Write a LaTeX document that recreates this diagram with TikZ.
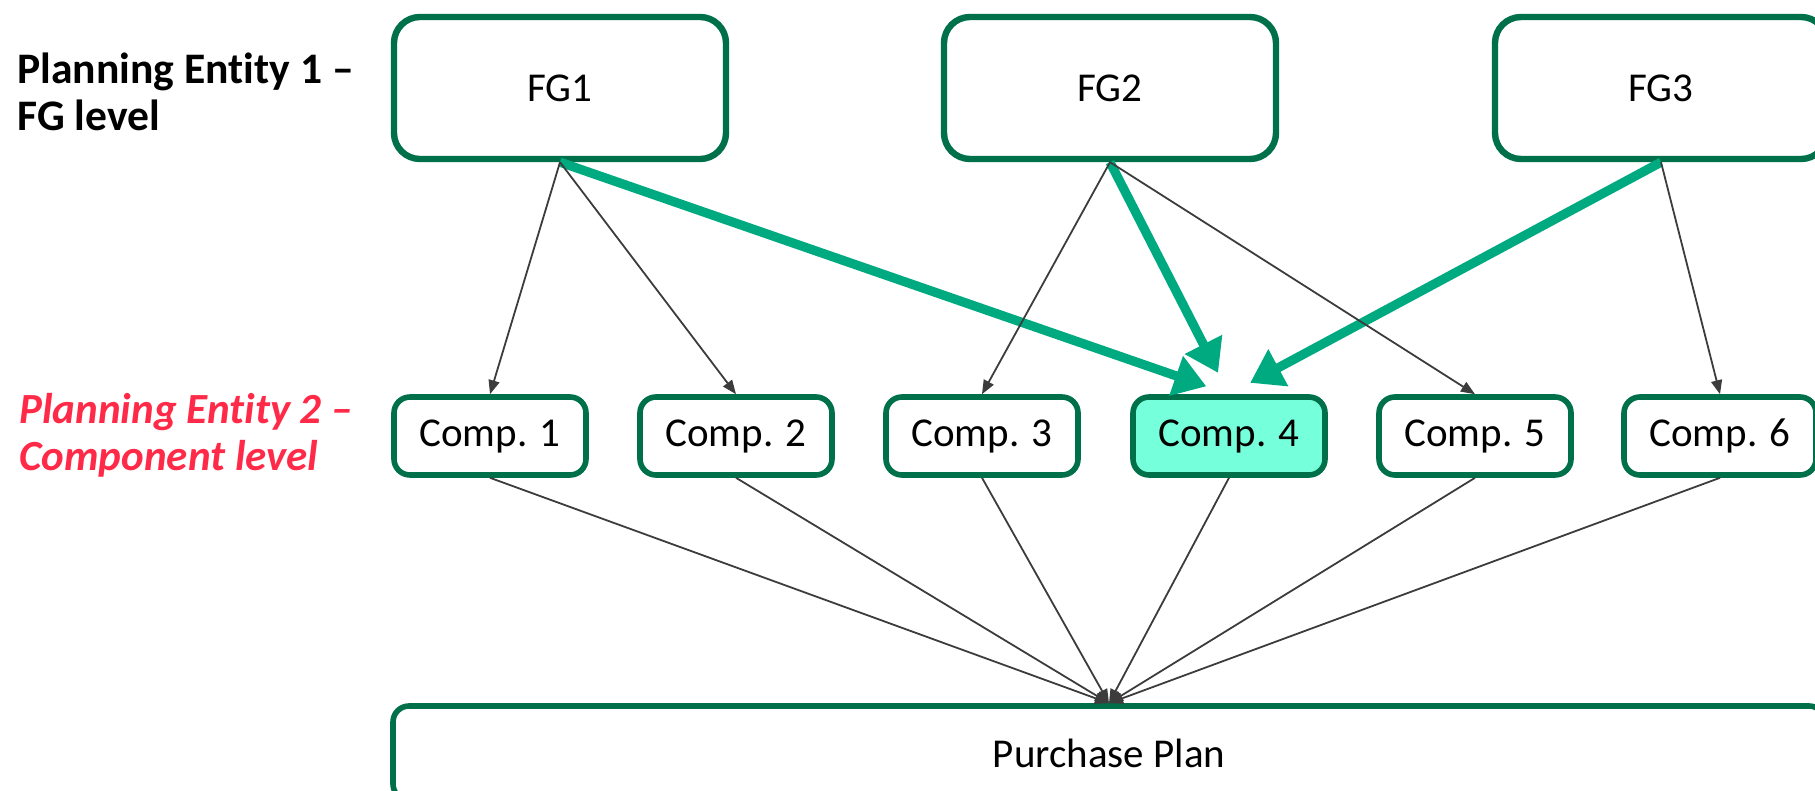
\documentclass[tikz,border=0pt]{standalone}
\usepackage{fontspec}
\setmainfont{Carlito}[Ligatures=CommonOff]
\usetikzlibrary{arrows.meta}
\definecolor{boxgreen}{HTML}{00704A}
\definecolor{flowgreen}{HTML}{00AA80}
\definecolor{compfill}{HTML}{76FFDB}
\definecolor{levelred}{HTML}{FF2A48}
\definecolor{linkgray}{HTML}{3C3C3C}
\begin{document}
\begin{tikzpicture}[x=0.5pt,y=-0.5pt,
  boxtext/.style={font=\fontsize{20.5}{24}\selectfont},
  fgbox/.style={boxtext, draw=boxgreen, line width=3.2pt, rounded corners=13pt,
    fill=white, minimum width=166pt, minimum height=71pt, inner sep=0pt},
  compbox/.style={boxtext, draw=boxgreen, line width=2.8pt, rounded corners=8pt,
    fill=white, minimum width=96pt, minimum height=39pt, inner sep=0pt},
  planbox/.style={boxtext, draw=boxgreen, line width=2.8pt, rounded corners=8pt,
    fill=white, minimum width=716pt, minimum height=47pt, inner sep=0pt},
  link/.style={draw=linkgray, line width=0.9pt,
    -{Triangle[length=7pt,width=5.5pt]}},
  flow/.style={draw=flowgreen, line width=4.6pt,
    -{Triangle[length=16pt,width=20pt]}, shorten >=12pt},
  level/.style={font=\fontsize{21.8}{23.5}\selectfont\bfseries, align=left,
    anchor=west, inner sep=0pt}]
\useasboundingbox (0,0) rectangle (1815,791);
\clip (0,0) rectangle (1815,791);

% level labels
\node[level] (lvl1) at (17,92) {Planning Entity 1 –\\FG level};
\node[level, text=levelred, font=\fontsize{21.5}{23.5}\selectfont\bfseries\itshape]
  (lvl2) at (19,435) {Planning Entity 2 –\\Component level};

% finished goods
\node[fgbox] (fg1) at (560,88) {FG1};
\node[fgbox] (fg2) at (1110,88) {FG2};
\node[fgbox] (fg3) at (1661,88) {FG3};

% components
\node[compbox] (c1) at (490,436) {Comp. 1};
\node[compbox] (c2) at (736,436) {Comp. 2};
\node[compbox] (c3) at (982,436) {Comp. 3};
\node[compbox, fill=compfill] (c4) at (1229,436) {Comp. 4};
\node[compbox] (c5) at (1475,436) {Comp. 5};
\node[compbox] (c6) at (1720,436) {Comp. 6};

% purchase plan
\node[planbox] (pp) at (1109,753) {Purchase Plan};

% shared component demand
\draw[flow] (fg1.south) -- (c4.north);
\draw[flow] (fg2.south) -- (c4.north);
\draw[flow] (fg3.south) -- (c4.north);

% bill of materials links
\draw[link] (fg1.south) -- (c1.north);
\draw[link] (fg1.south) -- (c2.north);
\draw[link] (fg2.south) -- (c3.north);
\draw[link] (fg2.south) -- (c5.north);
\draw[link] (fg3.south) -- (c6.north);

% components into the purchase plan
\foreach \c in {c1,c2,c3,c4,c5,c6}
  \draw[link] (\c.south) -- (pp.north);
\end{tikzpicture}
\end{document}
